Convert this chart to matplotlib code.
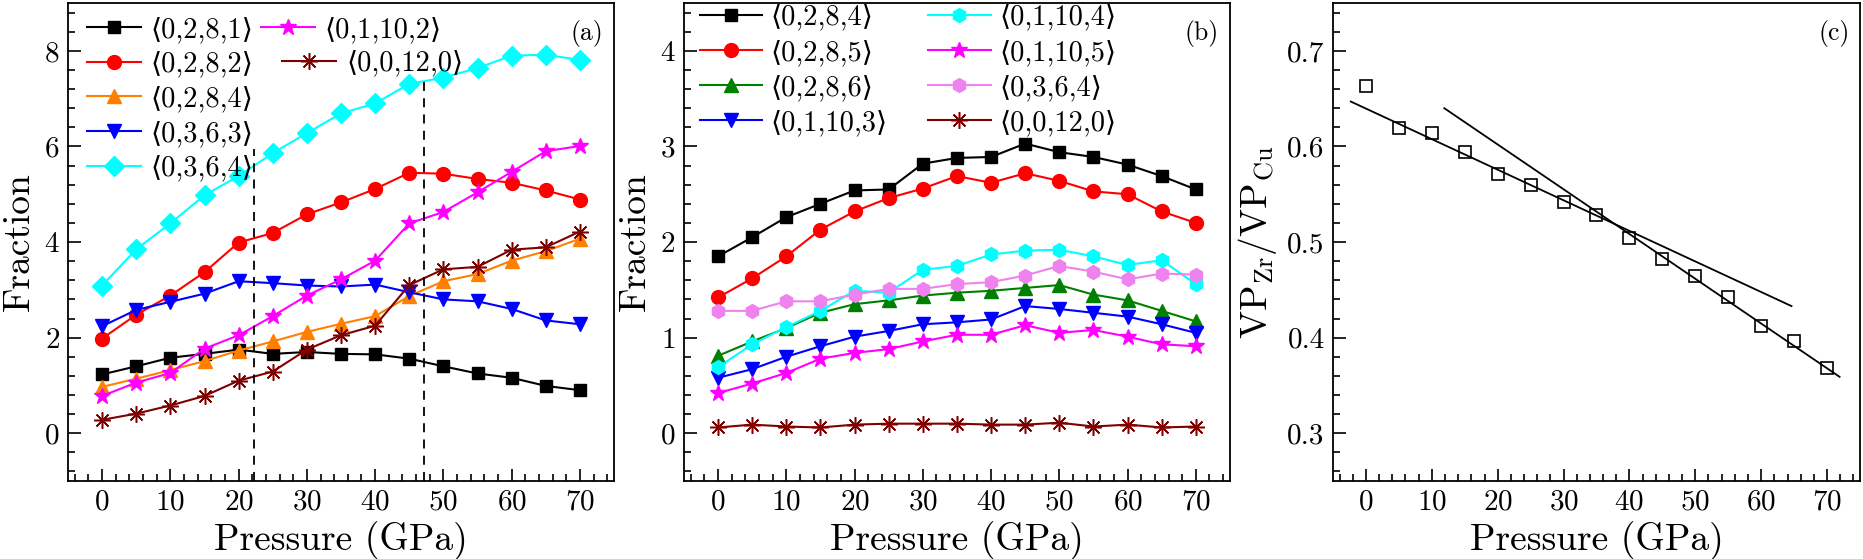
import matplotlib
matplotlib.use("Agg")
import matplotlib.pyplot as plt
from matplotlib.ticker import MultipleLocator

plt.rcParams["font.family"] = "serif"
plt.rcParams["font.serif"] = ["cmr10"]
plt.rcParams["mathtext.fontset"] = "cm"
plt.rcParams["axes.formatter.use_mathtext"] = True

# ---- data ----
pressure = [0, 5, 10, 15, 20, 25, 30, 35, 40, 45, 50, 55, 60, 65, 70]

# panel (a)
a_0281 = [1.23, 1.40, 1.58, 1.66, 1.75, 1.66, 1.70, 1.66, 1.65, 1.56, 1.40, 1.25, 1.16, 0.99, 0.90]
a_0282 = [1.98, 2.48, 2.88, 3.37, 3.99, 4.19, 4.58, 4.83, 5.11, 5.45, 5.43, 5.32, 5.24, 5.08, 4.89]
a_0284 = [0.97, 1.14, 1.32, 1.51, 1.73, 1.92, 2.12, 2.29, 2.45, 2.87, 3.18, 3.33, 3.61, 3.81, 4.07]
a_0363 = [2.24, 2.58, 2.75, 2.92, 3.18, 3.14, 3.09, 3.07, 3.11, 2.95, 2.80, 2.76, 2.60, 2.36, 2.28]
a_0364 = [3.09, 3.85, 4.39, 4.98, 5.38, 5.86, 6.28, 6.69, 6.90, 7.31, 7.44, 7.64, 7.90, 7.92, 7.81]
a_01102 = [0.78, 1.06, 1.26, 1.77, 2.05, 2.45, 2.88, 3.22, 3.61, 4.39, 4.63, 5.04, 5.47, 5.90, 6.01]
a_00120 = [0.28, 0.41, 0.58, 0.78, 1.10, 1.29, 1.75, 2.05, 2.25, 3.10, 3.43, 3.48, 3.84, 3.89, 4.22]
a_dash_x = [22.3, 47.2]
a_dash_top = [5.95, 7.4]

# panel (b)
b_0284 = [1.85, 2.05, 2.26, 2.40, 2.54, 2.55, 2.82, 2.88, 2.89, 3.03, 2.94, 2.89, 2.81, 2.69, 2.55]
b_0285 = [1.42, 1.62, 1.85, 2.13, 2.32, 2.46, 2.56, 2.69, 2.62, 2.72, 2.64, 2.53, 2.50, 2.32, 2.20]
b_0286 = [0.81, 0.96, 1.10, 1.26, 1.35, 1.39, 1.44, 1.47, 1.49, 1.52, 1.55, 1.45, 1.39, 1.28, 1.17]
b_01103 = [0.58, 0.67, 0.80, 0.91, 1.01, 1.07, 1.14, 1.16, 1.19, 1.33, 1.30, 1.26, 1.22, 1.14, 1.05]
b_01104 = [0.69, 0.93, 1.11, 1.28, 1.49, 1.47, 1.71, 1.75, 1.87, 1.91, 1.92, 1.85, 1.76, 1.81, 1.56]
b_01105 = [0.42, 0.52, 0.63, 0.78, 0.84, 0.88, 0.96, 1.03, 1.03, 1.13, 1.05, 1.08, 1.01, 0.93, 0.91]
b_0364 = [1.28, 1.28, 1.38, 1.38, 1.45, 1.51, 1.51, 1.56, 1.58, 1.65, 1.75, 1.69, 1.61, 1.67, 1.66]
b_00120 = [0.06, 0.09, 0.07, 0.06, 0.09, 0.10, 0.10, 0.10, 0.09, 0.09, 0.11, 0.07, 0.09, 0.06, 0.07]

# panel (c)
c_ratio = [0.663, 0.619, 0.614, 0.594, 0.571, 0.560, 0.542, 0.528, 0.504, 0.482, 0.465, 0.442, 0.412, 0.396, 0.368]
c_fit1_x = [-2.3, 64.6]
c_fit1_y = [0.647, 0.433]
c_fit2_x = [11.9, 71.9]
c_fit2_y = [0.640, 0.359]


def lbl(s):
    return "\u27e8" + s + "\u27e9"


LEG_FONT = {"family": ["cmr10", "DejaVu Sans"], "size": 20.5}


def style_axes(ax, ymaj, ymin):
    ax.set_xlim(-5, 75)
    ax.xaxis.set_major_locator(MultipleLocator(10))
    ax.xaxis.set_minor_locator(MultipleLocator(2))
    ax.yaxis.set_major_locator(MultipleLocator(ymaj))
    ax.yaxis.set_minor_locator(MultipleLocator(ymin))
    ax.tick_params(which="both", direction="in", top=False, right=False,
                   labelsize=21, width=1.2, pad=6)
    ax.tick_params(which="major", length=9)
    ax.tick_params(which="minor", length=5)
    for sp in ax.spines.values():
        sp.set_linewidth(1.3)
    ax.set_xlabel("Pressure (GPa)", fontsize=27, labelpad=4)


fig = plt.figure(figsize=(18.63, 5.59), dpi=100)
bot, hgt = 0.1395, 0.855
ax1 = fig.add_axes([0.0365, bot, 0.2931, hgt])
ax2 = fig.add_axes([0.3671, bot, 0.2931, hgt])
ax3 = fig.add_axes([0.7155, bot, 0.2829, hgt])

ms = 10
ast = (8, 2, 0)

# ---- (a) ----
h = {}
h["0281"], = ax1.plot(pressure, a_0281, "-s", color="black", ms=8.5, lw=1.5)
h["0282"], = ax1.plot(pressure, a_0282, "-o", color="red", ms=ms, lw=1.5)
h["0284"], = ax1.plot(pressure, a_0284, "-^", color="#ff8000", ms=ms, lw=1.5)
h["0363"], = ax1.plot(pressure, a_0363, "-v", color="blue", ms=ms, lw=1.5)
h["0364"], = ax1.plot(pressure, a_0364, "-D", color="cyan", ms=10, lw=1.5)
h["01102"], = ax1.plot(pressure, a_01102, "-*", color="magenta", ms=12, lw=1.5)
h["00120"], = ax1.plot(pressure, a_00120, "-", marker=ast, color="#800000", ms=12, mew=1.1, lw=1.5)
for x, t in zip(a_dash_x, a_dash_top):
    ax1.plot([x, x], [-1, t], "--", color="black", lw=1.3, dashes=(5, 4))
ax1.set_ylim(-1, 9)
style_axes(ax1, 2, 0.4)
ax1.set_ylabel("Fraction", fontsize=27, labelpad=6)
ax1.text(0.98, 0.965, "(a)", transform=ax1.transAxes, ha="right", va="top", fontsize=18.5)

kw = dict(frameon=False, prop=LEG_FONT, handlelength=1.9, handletextpad=0.35,
          labelspacing=0.28, borderpad=0, borderaxespad=0, loc="upper left")
leg1 = ax1.legend([h[k] for k in ["0281", "0282", "0284", "0363", "0364"]],
                  [lbl("0,2,8,1"), lbl("0,2,8,2"), lbl("0,2,8,4"), lbl("0,3,6,3"), lbl("0,3,6,4")],
                  bbox_to_anchor=(0.034, 0.972), **kw)
ax1.add_artist(leg1)
leg1b = ax1.legend([h["01102"]], [lbl("0,1,10,2")], bbox_to_anchor=(0.353, 0.972), **kw)
ax1.add_artist(leg1b)
ax1.legend([h["00120"]], [lbl("0,0,12,0")], bbox_to_anchor=(0.392, 0.902), **kw)

# ---- (b) ----
hb = []
hb += ax2.plot(pressure, b_0284, "-s", color="black", ms=8.5, lw=1.5)
hb += ax2.plot(pressure, b_0285, "-o", color="red", ms=ms, lw=1.5)
hb += ax2.plot(pressure, b_0286, "-^", color="green", ms=ms, lw=1.5)
hb += ax2.plot(pressure, b_01103, "-v", color="blue", ms=ms, lw=1.5)
hb += ax2.plot(pressure, b_01104, "-h", color="cyan", ms=ms, lw=1.5)
hb += ax2.plot(pressure, b_01105, "-*", color="magenta", ms=12, lw=1.5)
hb += ax2.plot(pressure, b_0364, "-h", color="violet", ms=ms, lw=1.5)
hb += ax2.plot(pressure, b_00120, "-", marker=ast, color="#800000", ms=12, mew=1.1, lw=1.5)
ax2.set_ylim(-0.5, 4.5)
style_axes(ax2, 1, 0.2)
ax2.set_ylabel("Fraction", fontsize=27, labelpad=6)
ax2.text(0.98, 0.965, "(b)", transform=ax2.transAxes, ha="right", va="top", fontsize=18.5)
kwb = dict(kw)
kwb["handlelength"] = 2.2
kwb["handletextpad"] = 0.3
kwb["labelspacing"] = 0.3
leg2 = ax2.legend(hb[:4], [lbl("0,2,8,4"), lbl("0,2,8,5"), lbl("0,2,8,6"), lbl("0,1,10,3")],
                  bbox_to_anchor=(0.029, 0.998), **kwb)
ax2.add_artist(leg2)
ax2.legend(hb[4:], [lbl("0,1,10,4"), lbl("0,1,10,5"), lbl("0,3,6,4"), lbl("0,0,12,0")],
           bbox_to_anchor=(0.447, 0.998), **kwb)

# ---- (c) ----
ax3.plot(pressure, c_ratio, "s", mfc="none", mec="black", ms=8, mew=1.2, ls="none")
ax3.plot(c_fit1_x, c_fit1_y, "-", color="black", lw=1.3)
ax3.plot(c_fit2_x, c_fit2_y, "-", color="black", lw=1.3)
ax3.set_ylim(0.25, 0.75)
style_axes(ax3, 0.1, 0.02)
ax3.yaxis.set_major_formatter(matplotlib.ticker.FormatStrFormatter("%.1f"))
ax3.set_ylabel(r"$\mathrm{VP}_{\mathrm{Zr}}/\mathrm{VP}_{\mathrm{Cu}}$", fontsize=27, labelpad=6)
ax3.text(0.98, 0.965, "(c)", transform=ax3.transAxes, ha="right", va="top", fontsize=18.5)

fig.savefig("out.png", dpi=100)
